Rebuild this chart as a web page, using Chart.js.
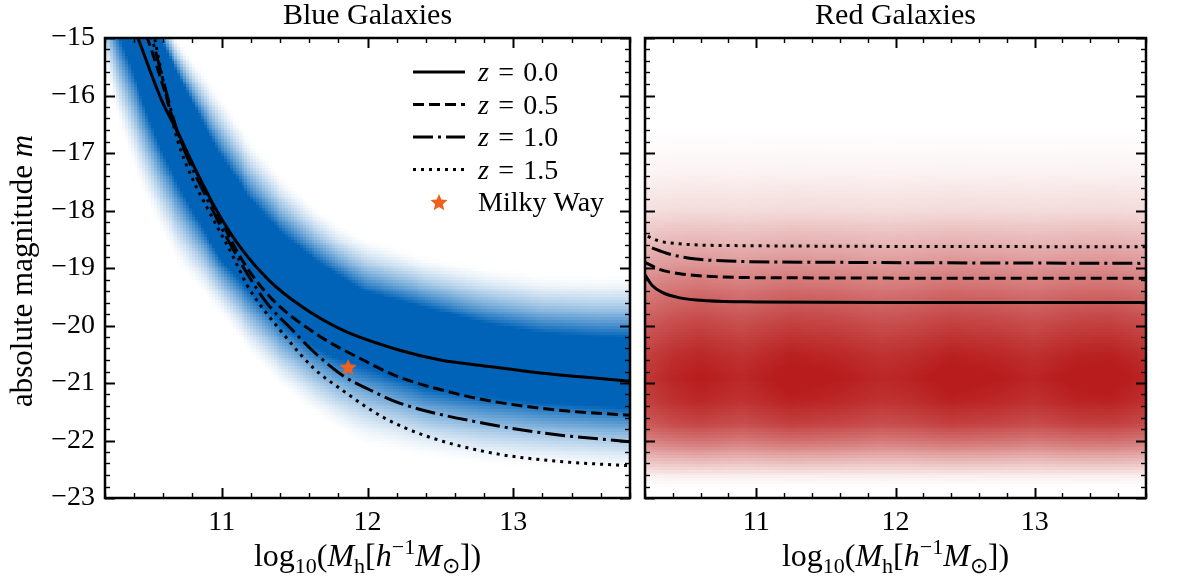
<!DOCTYPE html>
<html>
<head>
<meta charset="utf-8">
<script src="https://cdn.jsdelivr.net/npm/chart.js@4.4.1/dist/chart.umd.min.js"></script>
<style>
  html, body { margin: 0; padding: 0; background: #fff; }
  #wrap { position: relative; width: 1178px; height: 581px; }
  canvas { position: absolute; top: 0; }
</style>
</head>
<body>
<div id="wrap">
  <canvas id="blueChart" width="640" height="581" style="left:0"></canvas>
  <canvas id="redChart" width="538" height="581" style="left:640px"></canvas>
</div>
<script>
// axes
const xRange = [10.2, 13.8];
const mRange = [-23, -15];
const xTicks = [11, 12, 13];
const yTicks = [-15, -16, -17, -18, -19, -20, -21, -22, -23];
const redshifts = ['0.0', '0.5', '1.0', '1.5'];

// blue galaxies: median magnitude vs halo mass, one curve per redshift
const blueX00 = [10.381, 10.426, 10.588, 10.703, 10.823, 10.964, 11.125, 11.323, 11.549, 11.83, 12.221, 12.5, 12.86, 13.2, 13.5, 13.8];
const blueM00 = [-14.7, -15.0, -16.08, -16.66, -17.3, -17.99, -18.63, -19.21, -19.67, -20.08, -20.43, -20.6, -20.72, -20.83, -20.9, -20.97];
const blueX05 = [10.44, 10.49, 10.6, 10.69, 10.85, 11.0, 11.15, 11.33, 11.65, 11.97, 12.2, 12.6, 12.86, 13.3, 13.8];
const blueM05 = [-14.7, -15.0, -15.85, -16.6, -17.45, -18.2, -18.9, -19.5, -20.15, -20.6, -20.88, -21.18, -21.32, -21.47, -21.56];
const blueX10 = [10.47, 10.52, 10.6, 10.7, 10.9, 11.12, 11.31, 11.47, 11.65, 11.83, 12.0, 12.22, 12.86, 13.3, 13.8];
const blueM10 = [-14.7, -15.0, -15.75, -16.65, -17.8, -18.86, -19.61, -20.04, -20.5, -20.87, -21.1, -21.35, -21.73, -21.9, -22.02];
const blueX15 = [10.52, 10.54, 10.62, 10.7, 10.8, 10.9, 11.09, 11.17, 11.44, 11.63, 11.83, 12.11, 12.4, 12.86, 13.3, 13.8];
const blueM15 = [-14.75, -15.0, -16.0, -16.8, -17.45, -17.95, -18.86, -19.28, -20.2, -20.74, -21.13, -21.6, -21.92, -22.22, -22.36, -22.44];
const milkyWay = { x: 11.867, y: -20.72 };

// red galaxies
const redX00 = [10.2, 10.25, 10.32, 10.45, 10.65, 11.0, 12.0, 13.8];
const redM00 = [-19.12, -19.3, -19.42, -19.52, -19.57, -19.59, -19.6, -19.6];
const redX05 = [10.2, 10.3, 10.45, 10.7, 11.2, 13.8];
const redM05 = [-18.9, -19.02, -19.1, -19.15, -19.17, -19.18];
const redX10 = [10.25, 10.35, 10.52, 10.8, 11.5, 13.8];
const redM10 = [-18.65, -18.74, -18.83, -18.88, -18.9, -18.92];
const redX15 = [10.22, 10.3, 10.45, 10.8, 13.8];
const redM15 = [-18.45, -18.53, -18.58, -18.61, -18.63];

// blue density band: edges of the saturated core and of the faded wings
const bandX          = [10.2, 10.3, 10.4, 10.5, 10.6, 10.7, 10.8, 10.9, 11.0, 11.2, 11.4, 11.6, 11.8, 12.0, 12.4, 12.8, 13.2, 13.6, 13.8];
const bandFadeTop    = [-12.0, -12.6, -13.3, -14.0, -14.6, -15.0, -15.35, -15.66, -16.0, -16.75, -17.35, -17.82, -18.22, -18.47, -18.78, -18.97, -19.1, -19.12, -19.1];
const bandCoreTop    = [-13.0, -13.6, -14.1, -14.6, -15.1, -15.6, -16.1, -16.6, -17.05, -17.8, -18.35, -18.77, -19.12, -19.42, -19.68, -19.95, -20.12, -20.19, -20.2];
const bandCoreBottom = [-14.2, -14.95, -15.6, -16.35, -17.0, -17.5, -17.97, -18.4, -18.84, -19.4, -19.92, -20.3, -20.56, -20.72, -21.07, -21.22, -21.33, -21.4, -21.43];
const bandFadeBottom = [-15.4, -16.5, -17.3, -17.9, -18.45, -18.9, -19.25, -19.53, -19.83, -20.5, -21.05, -21.47, -21.83, -22.1, -22.3, -22.44, -22.5, -22.55, -22.57];

// red density: level along magnitude, modulated along halo mass
const redProfileM     = [-16.6, -17.3, -18.0, -18.5, -19.0, -19.5, -20.0, -20.5, -20.9, -21.3, -21.7, -22.0, -22.3, -22.6, -22.8];
const redProfileLevel = [0, 0.05, 0.16, 0.32, 0.5, 0.68, 0.83, 0.95, 1.0, 0.95, 0.82, 0.62, 0.35, 0.08, 0];
const redGainX = [10.2, 10.4, 10.6, 10.9, 11.25, 11.6, 11.9, 12.1, 12.4, 12.75, 13.0, 13.3, 13.55, 13.8];
const redGain  = [0.88, 0.96, 1.0, 0.95, 1.03, 1.0, 0.95, 0.97, 1.03, 1.0, 0.96, 1.02, 1.03, 0.97];

const BLUE = [0, 99, 184];
const RED = [184, 28, 28];
const STAR = '#f0601f';
const SERIF = "'Liberation Serif', 'Times New Roman', serif";
const dashes = [[], [11, 5], [20, 5, 3, 5], [3, 5]];

Chart.defaults.font.family = SERIF;
Chart.defaults.color = '#000';

function interp(xs, ys, x) {
  if (x <= xs[0]) return ys[0];
  for (let i = 1; i < xs.length; i++) {
    if (x <= xs[i]) {
      const t = (x - xs[i - 1]) / (xs[i] - xs[i - 1]);
      return ys[i - 1] + t * (ys[i] - ys[i - 1]);
    }
  }
  return ys[ys.length - 1];
}

function shade(rgb, level) {
  const l = Math.max(0, Math.min(1, level));
  const c = rgb.map(v => Math.round(255 + (v - 255) * l));
  return `rgb(${c[0]},${c[1]},${c[2]})`;
}

function blueLevel(x, m) {
  const ft = interp(bandX, bandFadeTop, x), ct = interp(bandX, bandCoreTop, x);
  const cb = interp(bandX, bandCoreBottom, x), fb = interp(bandX, bandFadeBottom, x);
  if (m <= ct && m >= cb) return 1;
  if (m > ct) return m >= ft ? 0 : Math.pow((ft - m) / (ft - ct), 1.6);
  return m <= fb ? 0 : Math.pow((m - fb) / (cb - fb), 1.6);
}

const redM = redProfileM.slice().reverse();
const redL = redProfileLevel.slice().reverse();
function redLevel(x, m) {
  return interp(redM, redL, m) * interp(redGainX, redGain, x);
}

function densityPlugin(levelFn, rgb) {
  return {
    id: 'density',
    beforeDatasetsDraw(chart) {
      const { ctx, chartArea: a, scales: { x, y } } = chart;
      const dx = 0.02, dm = 0.05;
      ctx.save();
      ctx.beginPath();
      ctx.rect(a.left, a.top, a.right - a.left, a.bottom - a.top);
      ctx.clip();
      for (let x0 = xRange[0]; x0 < xRange[1] - 1e-9; x0 += dx) {
        const px0 = Math.floor(x.getPixelForValue(x0));
        const px1 = Math.ceil(x.getPixelForValue(x0 + dx));
        for (let m0 = mRange[0]; m0 < mRange[1] - 1e-9; m0 += dm) {
          const lv = levelFn(x0 + dx / 2, m0 + dm / 2);
          if (lv <= 0.003) continue;
          const py0 = Math.floor(y.getPixelForValue(m0 + dm));
          const py1 = Math.ceil(y.getPixelForValue(m0));
          ctx.fillStyle = shade(rgb, lv);
          ctx.fillRect(px0, py0, px1 - px0, py1 - py0);
        }
      }
      ctx.restore();
    }
  };
}

function drawParts(ctx, parts, x, baseline, align) {
  let w = 0;
  parts.forEach(p => { ctx.font = p[1]; w += ctx.measureText(p[0]).width; });
  let cx = align === 'left' ? x : x - w / 2;
  ctx.textAlign = 'left';
  ctx.textBaseline = 'alphabetic';
  parts.forEach(p => {
    ctx.font = p[1];
    ctx.fillText(p[0], cx, baseline + (p[2] || 0));
    cx += ctx.measureText(p[0]).width;
  });
}

const R = `32px ${SERIF}`;
const I = `italic 32px ${SERIF}`;
const S = `22px ${SERIF}`;
const LR = `28px ${SERIF}`;
const LI = `italic 28px ${SERIF}`;

function framePlugin(title, showYTitle) {
  return {
    id: 'frame',
    afterDatasetsDraw(chart) {
      const { ctx, chartArea: a, scales: { x, y } } = chart;
      ctx.save();
      ctx.strokeStyle = '#000';
      const seg = (x1, y1, x2, y2) => { ctx.beginPath(); ctx.moveTo(x1, y1); ctx.lineTo(x2, y2); ctx.stroke(); };
      for (let k = 0; k <= 18; k++) {
        const v = xRange[0] + k * 0.2;
        const major = xTicks.some(t => Math.abs(t - v) < 1e-6);
        const px = Math.round(x.getPixelForValue(v)) + 0.5;
        ctx.lineWidth = major ? 2 : 1.4;
        const len = major ? 10 : 5;
        seg(px, a.bottom, px, a.bottom - len);
        seg(px, a.top, px, a.top + len);
      }
      for (let k = 0; k <= 40; k++) {
        const v = mRange[0] + k * 0.2;
        const major = Math.abs(v - Math.round(v)) < 1e-6;
        const py = Math.round(y.getPixelForValue(v)) + 0.5;
        ctx.lineWidth = major ? 2 : 1.4;
        const len = major ? 10 : 5;
        seg(a.left, py, a.left + len, py);
        seg(a.right, py, a.right - len, py);
      }
      ctx.lineWidth = 2.5;
      ctx.strokeRect(a.left, a.top, a.right - a.left, a.bottom - a.top);

      ctx.fillStyle = '#000';
      const cx = (a.left + a.right) / 2;
      drawParts(ctx, [[title, `30px ${SERIF}`]], cx, 24);
      drawParts(ctx, [['log', R], ['10', S, 7], ['(', R], ['M', I], ['h', S, 7], ['[', R], ['h', I],
        ['\u22121', S, -12], ['M', I], ['\u2299', S, 7], [']', R], [')', R]], cx, 566);
      if (showYTitle) {
        ctx.save();
        ctx.translate(32, (a.top + a.bottom) / 2 + 3);
        ctx.rotate(-Math.PI / 2);
        drawParts(ctx, [['absolute magnitude ', `31px ${SERIF}`], ['m', `italic 31px ${SERIF}`]], 0, 0);
        ctx.restore();
      }
      ctx.restore();
    }
  };
}

function starCanvas(r) {
  const c = document.createElement('canvas');
  c.width = c.height = Math.ceil(r * 2 + 2);
  const g = c.getContext('2d');
  g.translate(c.width / 2, c.height / 2 + r * 0.1);
  g.beginPath();
  for (let i = 0; i < 10; i++) {
    const rr = i % 2 ? r * 0.45 : r;
    const ang = -Math.PI / 2 + i * Math.PI / 5;
    g.lineTo(rr * Math.cos(ang), rr * Math.sin(ang));
  }
  g.closePath();
  g.fillStyle = STAR;
  g.fill();
  return c;
}
const starImg = starCanvas(9);

const legendPlugin = {
  id: 'zlegend',
  afterDraw(chart) {
    const { ctx, chartArea: a } = chart;
    const x0 = a.right - 217, x1 = a.right - 165, tx = a.right - 152;
    ctx.save();
    ctx.strokeStyle = '#000';
    ctx.fillStyle = '#000';
    ctx.lineWidth = 3;
    redshifts.forEach((z, i) => {
      const ry = a.top + 34 + i * 32.5;
      ctx.setLineDash(dashes[i]);
      ctx.beginPath();
      ctx.moveTo(x0, ry);
      ctx.lineTo(x1, ry);
      ctx.stroke();
      drawParts(ctx, [['z', LI], ['\u2004=\u2004' + z, LR]], tx, ry + 9, 'left');
    });
    ctx.setLineDash([]);
    const sy = a.top + 34 + 4 * 32.5;
    ctx.drawImage(starImg, (x0 + x1) / 2 - starImg.width / 2, sy - starImg.height / 2);
    drawParts(ctx, [['Milky Way', LR]], tx, sy + 9, 'left');
    ctx.restore();
  }
};

function lineSet(xs, ms, i) {
  return {
    data: xs.map((x, k) => ({ x: x, y: ms[k] })),
    showLine: true,
    borderColor: '#000',
    borderWidth: 3,
    borderDash: dashes[i],
    pointRadius: 0,
    cubicInterpolationMode: 'monotone',
    clip: 0
  };
}

function makePanel(id, datasets, plugins, opt) {
  return new Chart(document.getElementById(id), {
    type: 'scatter',
    data: { datasets: datasets },
    options: {
      responsive: false,
      animation: false,
      events: [],
      layout: { padding: opt.padding },
      plugins: { legend: { display: false }, tooltip: { enabled: false } },
      scales: {
        x: {
          type: 'linear', min: xRange[0], max: xRange[1],
          grid: { display: false, drawTicks: false }, border: { display: false },
          afterBuildTicks: s => { s.ticks = xTicks.map(v => ({ value: v })); },
          ticks: { font: { size: 28 }, padding: 8, maxRotation: 0, callback: v => String(v) },
          afterFit: s => { s.height = 83; }
        },
        y: {
          type: 'linear', min: mRange[0], max: mRange[1],
          grid: { display: false, drawTicks: false }, border: { display: false },
          afterBuildTicks: s => { s.ticks = yTicks.map(v => ({ value: v })); },
          ticks: { display: opt.yLabels, font: { size: 28 }, padding: 10,
                   callback: v => (v < 0 ? '\u2212' + Math.abs(v) : String(v)) },
          afterFit: s => { s.width = opt.yWidth; }
        }
      }
    },
    plugins: plugins
  });
}

makePanel('blueChart', [
  lineSet(blueX00, blueM00, 0),
  lineSet(blueX05, blueM05, 1),
  lineSet(blueX10, blueM10, 2),
  lineSet(blueX15, blueM15, 3),
  { data: [milkyWay], pointStyle: starImg, pointRadius: 9, showLine: false }
], [densityPlugin(blueLevel, BLUE), framePlugin('Blue Galaxies', true), legendPlugin],
  { padding: { left: 0, right: 10, top: 38, bottom: 0 }, yWidth: 105, yLabels: true });

makePanel('redChart', [
  lineSet(redX00, redM00, 0),
  lineSet(redX05, redM05, 1),
  lineSet(redX10, redM10, 2),
  lineSet(redX15, redM15, 3)
], [densityPlugin(redLevel, RED), framePlugin('Red Galaxies', false)],
  { padding: { left: 5, right: 32, top: 38, bottom: 0 }, yWidth: 0, yLabels: false });
</script>
</body>
</html>
